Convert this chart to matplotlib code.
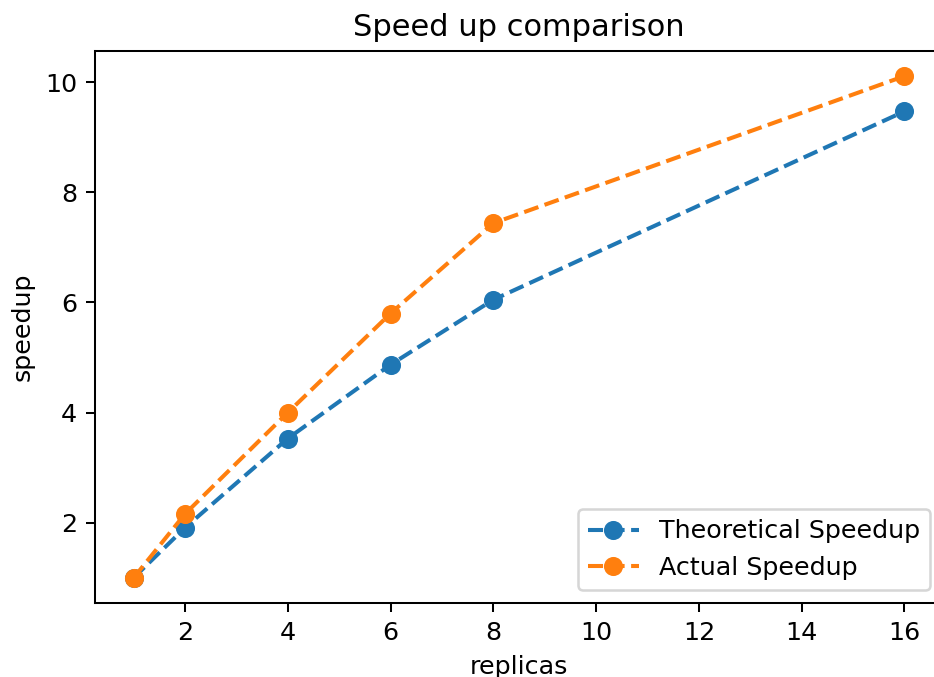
import matplotlib
matplotlib.use("Agg")
import matplotlib.pyplot as plt

replicas = [1, 2, 4, 6, 8, 16]
theoretical_speedup = [1.0, 1.91, 3.53, 4.87, 6.05, 9.47]
actual_speedup = [1.0, 2.16, 4.0, 5.8, 7.44, 10.11]


def main():
    dpi = 183
    fig = plt.figure(figsize=(934 / dpi, 677 / dpi), dpi=dpi)
    # axes runs a little past the right edge, as in the cropped original
    ax = fig.add_axes([95 / 934, 1 - 603 / 677, 848 / 934, 552 / 677])

    ax.plot(replicas, theoretical_speedup, "o--", label="Theoretical Speedup",
            markersize=6.5, linewidth=1.6)
    ax.plot(replicas, actual_speedup, "o--", label="Actual Speedup",
            markersize=6.5, linewidth=1.6)

    ax.set_title("Speed up comparison")
    ax.set_xlabel("replicas")
    ax.set_ylabel("speedup")
    ax.set_xticks([2, 4, 6, 8, 10, 12, 14, 16])
    ax.set_yticks([2, 4, 6, 8, 10])
    ax.legend(loc="lower right")

    fig.savefig("out.png", dpi=dpi)


if __name__ == "__main__":
    main()
